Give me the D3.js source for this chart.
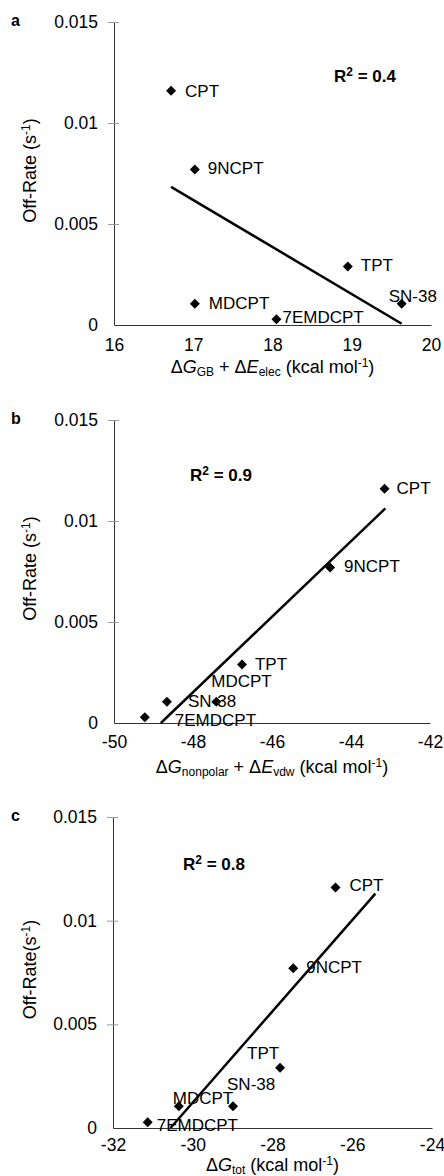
<!DOCTYPE html>
<html>
<head>
<meta charset="utf-8">
<script src="https://cdn.jsdelivr.net/npm/d3@7"></script>
<style>
  body { margin: 0; background: #fff; }
  text { font-family: Arial, "Liberation Sans", sans-serif; fill: #000; }
</style>
</head>
<body>
<script>
// compounds, same order in every panel
var compounds = ["CPT", "9NCPT", "TPT", "SN-38", "MDCPT", "7EMDCPT"];
// measured off-rates (s^-1)
var offRate = [0.0116, 0.0077, 0.0029, 0.00105, 0.00105, 0.00028];
// energy terms (kcal/mol) for each panel
var energyA = [16.72, 17.02, 18.95, 19.63, 17.02, 18.05];   // dG_GB + dE_elec
var energyB = [-43.15, -44.53, -46.76, -48.66, -47.41, -49.22]; // dG_nonpolar + dE_vdw
var energyC = [-26.42, -27.48, -27.81, -28.99, -30.35, -31.13]; // dG_tot

// ticks
var yTicks = [0, 0.005, 0.01, 0.015];
var yTickLabels = ["0", "0.005", "0.01", "0.015"];
var xTicksA = [16, 17, 18, 19, 20];
var xTicksB = [-50, -48, -46, -44, -42];
var xTicksC = [-32, -30, -28, -26, -24];
var xTickLabelsA = ["16", "17", "18", "19", "20"];
var xTickLabelsB = ["-50", "-48", "-46", "-44", "-42"];
var xTickLabelsC = ["-32", "-30", "-28", "-26", "-24"];
var r2Values = ["0.4", "0.9", "0.8"];
// x range the trend line was drawn over
var trendA = [16.72, 19.63];
var trendB = [-49.22, -43.13];
var trendC = [-31.13, -25.42];

var W = 444, H = 1176;
var svg = d3.select("body").append("svg")
    .attr("width", W)
    .attr("height", H);

// layout of the three panels
var panels = [
  { letter: "a", top: 22, bottom: 325, left: 114, right: 431,
    x: energyA, xTicks: xTicksA, xLabels: xTickLabelsA, xDomain: [16, 20], trend: trendA,
    r2: r2Values[0], r2Pos: [334, 60], titleGap: 48, tickPad: 14,
    yTitle: [{ t: "Off-Rate (s" }, { t: "-1", sup: 1 }, { t: ")" }],
    xTitle: [{ t: "\u0394" }, { t: "G", i: 1 }, { t: "GB", sub: 1 }, { t: " + \u0394" }, { t: "E", i: 1 },
             { t: "elec", sub: 1 }, { t: " (kcal mol" }, { t: "-1", sup: 1 }, { t: ")" }],
    offsets: [[14, 6], [13, 5], [13, 5], [-13, -2], [14, 5], [6, 4]] },
  { letter: "b", top: 420, bottom: 723, left: 114, right: 430,
    x: energyB, xTicks: xTicksB, xLabels: xTickLabelsB, xDomain: [-50, -42], trend: trendB,
    r2: r2Values[1], r2Pos: [190, 61], titleGap: 50, tickPad: 13,
    yTitle: [{ t: "Off-Rate (s" }, { t: "-1", sup: 1 }, { t: ")" }],
    xTitle: [{ t: "\u0394" }, { t: "G", i: 1 }, { t: "nonpolar", sub: 1 }, { t: " + \u0394" }, { t: "E", i: 1 },
             { t: "vdw", sub: 1 }, { t: " (kcal mol" }, { t: "-1", sup: 1 }, { t: ")" }],
    offsets: [[12, 5], [14, 5], [13, 6], [21, 5], [-5, -15], [30, 9]] },
  { letter: "c", top: 817, bottom: 1128, left: 113, right: 432,
    x: energyC, xTicks: xTicksC, xLabels: xTickLabelsC, xDomain: [-32, -24], trend: trendC,
    r2: r2Values[2], r2Pos: [183, 53], titleGap: 43, tickPad: 11,
    yTitle: [{ t: "Off-Rate(s" }, { t: "-1", sup: 1 }, { t: ")" }],
    xTitle: [{ t: "\u0394" }, { t: "G", i: 1 }, { t: "tot", sub: 1 }, { t: " (kcal mol" }, { t: "-1", sup: 1 }, { t: ")" }],
    offsets: [[14, 4], [13, 5], [-33, -9], [-6, -16], [-6, -2], [9, 9]] }
];

// text with sub/superscript pieces
function richText(sel, parts, size) {
  var shift = 0;
  parts.forEach(function (p) {
    var target = p.sub ? 3 : (p.sup ? -6 : 0);
    var ts = sel.append("tspan").text(p.t).attr("dy", target - shift);
    shift = target;
    if (p.sub || p.sup) ts.attr("font-size", Math.round(size * 0.68));
    if (p.i) ts.style("font-style", "italic");
  });
}

var diamond = d3.symbol().type(d3.symbolSquare).size(50);

panels.forEach(function (p) {
  var xScale = d3.scaleLinear().domain(p.xDomain).range([p.left, p.right]);
  var yScale = d3.scaleLinear().domain([0, 0.015]).range([p.bottom, p.top]);

  // y axis with cross ticks
  var yAxis = svg.append("g")
      .attr("transform", "translate(" + p.left + ",0)")
      .call(d3.axisLeft(yScale).tickValues(yTicks)
          .tickFormat(function (d, i) { return yTickLabels[i]; })
          .tickSize(6).tickSizeOuter(0).tickPadding(10))
      .attr("font-size", 17.5)
      .attr("font-family", "Arial, 'Liberation Sans', sans-serif");
  yAxis.select(".domain").attr("stroke", "#333");
  yAxis.selectAll(".tick line").attr("x1", 5).attr("stroke", "#999");
  yAxis.selectAll(".tick").filter(function (d) { return d === 0; }).select("line").remove();

  // x axis
  var xAxis = svg.append("g")
      .attr("transform", "translate(0," + p.bottom + ")")
      .call(d3.axisBottom(xScale).tickValues(p.xTicks)
          .tickFormat(function (d, i) { return p.xLabels[i]; })
          .tickSize(0).tickPadding(p.tickPad))
      .attr("font-size", 17.5)
      .attr("font-family", "Arial, 'Liberation Sans', sans-serif");
  xAxis.select(".domain").attr("stroke", "#333");

  // linear fit of the points
  var mx = d3.mean(p.x), my = d3.mean(offRate);
  var sxy = d3.sum(p.x, function (v, i) { return (v - mx) * (offRate[i] - my); });
  var sxx = d3.sum(p.x, function (v) { return (v - mx) * (v - mx); });
  var slope = sxy / sxx, icpt = my - slope * mx;
  var x0 = slope < 0 ? p.trend[0] : Math.max(p.trend[0], -icpt / slope);
  var x1 = slope < 0 ? Math.min(p.trend[1], -icpt / slope) : p.trend[1];
  var fit = [x0, x1].map(function (v) { return [v, Math.max(0, icpt + slope * v)]; });

  svg.append("path")
      .datum(fit)
      .attr("d", d3.line()
          .x(function (d) { return xScale(d[0]); })
          .y(function (d) { return yScale(d[1]); }))
      .attr("stroke", "#000")
      .attr("stroke-width", 2.5)
      .attr("fill", "none");

  // points
  var pts = p.x.map(function (v, i) { return { x: v, y: offRate[i], name: compounds[i], off: p.offsets[i] }; });
  svg.selectAll(null)
      .data(pts)
      .enter().append("path")
      .attr("d", diamond)
      .attr("transform", function (d) {
        return "translate(" + xScale(d.x) + "," + yScale(d.y) + ") rotate(45)";
      })
      .attr("fill", "#000");

  svg.selectAll(null)
      .data(pts)
      .enter().append("text")
      .attr("x", function (d) { return xScale(d.x) + d.off[0]; })
      .attr("y", function (d) { return yScale(d.y) + d.off[1]; })
      .attr("font-size", 17)
      .text(function (d) { return d.name; });

  // R^2
  var r2 = svg.append("text")
      .attr("x", p.r2Pos[0])
      .attr("y", p.top + p.r2Pos[1])
      .attr("font-size", 17)
      .attr("font-weight", "bold");
  richText(r2, [{ t: "R" }, { t: "2", sup: 1 }, { t: " = " + p.r2 }], 17);

  // panel letter
  svg.append("text")
      .attr("x", 11)
      .attr("y", p.top + 4)
      .attr("font-size", 16)
      .attr("font-weight", "bold")
      .text(p.letter);

  // axis titles
  var yt = svg.append("text")
      .attr("transform", "translate(36," + ((p.top + p.bottom) / 2 - 3) + ") rotate(-90)")
      .attr("text-anchor", "middle")
      .attr("font-size", 18);
  richText(yt, p.yTitle, 18);

  var xt = svg.append("text")
      .attr("x", (p.left + p.right) / 2)
      .attr("y", p.bottom + p.titleGap)
      .attr("text-anchor", "middle")
      .attr("font-size", 18);
  richText(xt, p.xTitle, 18);
});
</script>
</body>
</html>
